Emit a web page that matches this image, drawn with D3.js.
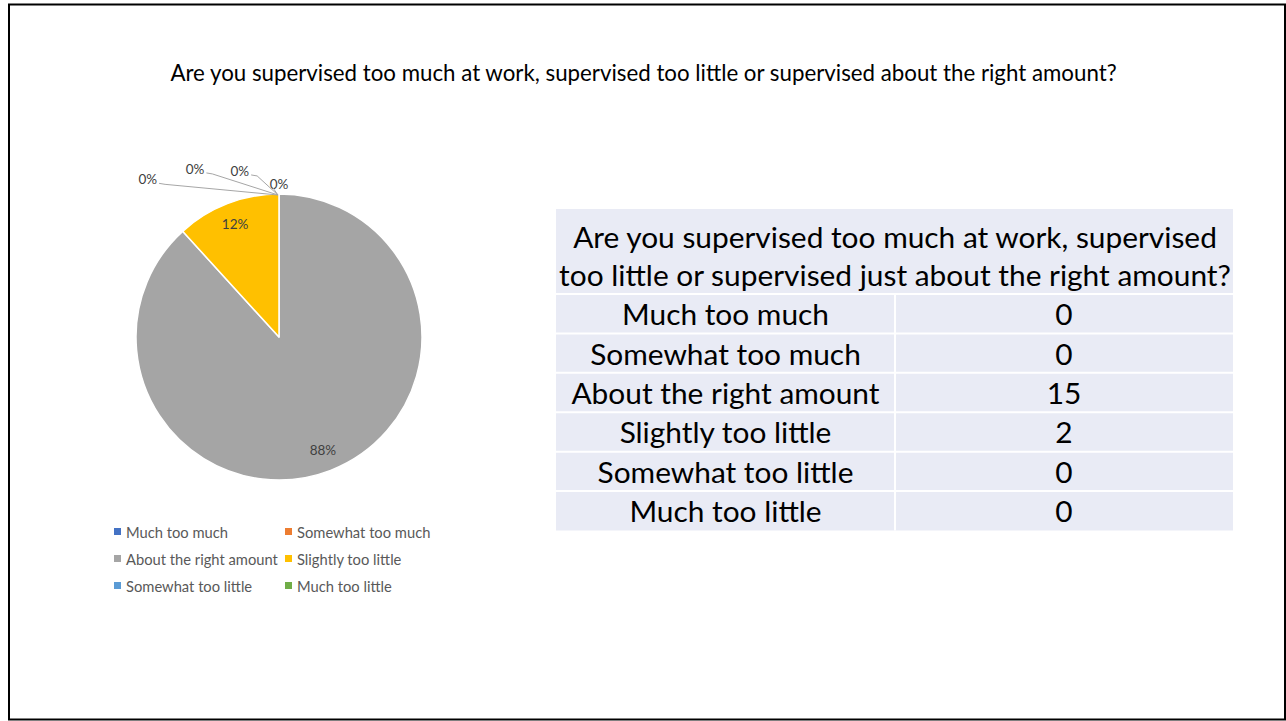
<!DOCTYPE html>
<html>
<head>
<meta charset="utf-8">
<script src="https://cdn.jsdelivr.net/npm/d3@7"></script>
<style>
  html, body { margin: 0; padding: 0; background: #fff; }
  svg { display: block; font-family: Lato, "Open Sans", sans-serif; }
</style>
</head>
<body>
<svg id="chart" width="1286" height="721"></svg>
<script>
// Survey answers and counts
const title = "Are you supervised too much at work, supervised too little or supervised about the right amount?";
const categories = ["Much too much", "Somewhat too much", "About the right amount", "Slightly too little", "Somewhat too little", "Much too little"];
const counts = [0, 0, 15, 2, 0, 0];
const colors = ["#4472C4", "#ED7D31", "#A5A5A5", "#FFC000", "#5B9BD5", "#70AD47"];
const tableHeader = ["Are you supervised too much at work, supervised", "too little or supervised just about the right amount?"];

const data = categories.map((c, i) => ({ name: c, count: counts[i], color: colors[i] }));
const total = d3.sum(counts);

const svg = d3.select("#chart");

// Scale a text's font size so it spans the given width
function fitWidth(sel, width) {
  const w = sel.node().getComputedTextLength();
  const fs = parseFloat(sel.attr("font-size"));
  return fs * width / w;
}

// Slide frame
svg.append("rect")
  .attr("x", 9).attr("y", 4.5).attr("width", 1276).attr("height", 715)
  .attr("fill", "none").attr("stroke", "#000").attr("stroke-width", 2);

// Title
const t = svg.append("text")
  .attr("x", 643.5).attr("y", 80.5)
  .attr("text-anchor", "middle").attr("font-size", 20).attr("fill", "#000")
  .text(title);
t.attr("font-size", fitWidth(t, 947));

// ---------- Pie ----------
const cx = 279, cy = 337, R = 143;
const pie = d3.pie().sort(null).value(d => d.count).startAngle(0).endAngle(2 * Math.PI);
const arcs = pie(data);
const arc = d3.arc().innerRadius(0).outerRadius(R);
const labelArc = d3.arc().innerRadius(R * 0.85).outerRadius(R * 0.85);

const g = svg.append("g").attr("transform", `translate(${cx},${cy})`);
g.selectAll("path.slice")
  .data(arcs.filter(a => a.data.count > 0))
  .join("path")
  .attr("class", "slice")
  .attr("d", arc)
  .attr("fill", d => d.data.color)
  .attr("stroke", "#fff").attr("stroke-width", 1.5)
  .attr("stroke-linejoin", "round");

const pct = v => Math.round(v / total * 100) + "%";

// Probe text for label size
const probe = g.append("text").attr("font-size", 14).text("88%");
const labelSize = fitWidth(probe, 26.5);
probe.remove();

// In-slice labels
g.selectAll("text.inner")
  .data(arcs.filter(a => a.data.count > 0))
  .join("text")
  .attr("class", "inner")
  .attr("transform", d => `translate(${labelArc.centroid(d)})`)
  .attr("text-anchor", "middle").attr("dominant-baseline", "central")
  .attr("font-size", labelSize).attr("fill", "#404040")
  .text(d => pct(d.data.count));

// Empty slices: labels pushed outward and staggered to the left above the pie top
const zero = arcs.filter(a => a.data.count === 0);
const stepAngle = 13.2 * Math.PI / 180;
zero.forEach((a, i) => {
  const ang = -i * stepAngle;
  const rr = R * (1.08 + 0.12 * i);
  const lx = rr * Math.sin(ang);
  const ly = -rr * Math.cos(ang) + 1;
  const txt = g.append("text")
    .attr("x", lx).attr("y", ly)
    .attr("text-anchor", "middle").attr("dominant-baseline", "central")
    .attr("font-size", labelSize).attr("fill", "#404040")
    .text(pct(a.data.count));
  const hw = txt.node().getComputedTextLength() / 2;
  let pts;
  if (i === 0) {
    pts = [[lx - hw + 3, ly + 4], [-1, -R + 1]];
  } else {
    pts = [[lx + hw + 2, ly + 4], [lx + hw + 8, ly + 5], [-1, -R + 1]];
  }
  g.append("path")
    .attr("d", d3.line()(pts))
    .attr("fill", "none").attr("stroke", "#A6A6A6").attr("stroke-width", 1);
});

// ---------- Legend ----------
const legendCols = [114, 285];
const legendRows = d3.scalePoint().domain([0, 1, 2]).range([531.5, 585.5]);
const lg = svg.append("g");
const probe2 = lg.append("text").attr("font-size", 13).text("About the right amount");
const legendSize = fitWidth(probe2, 152);
probe2.remove();
data.forEach((d, i) => {
  const x = legendCols[i % 2];
  const y = legendRows(Math.floor(i / 2));
  lg.append("rect").attr("x", x).attr("y", y - 3.5).attr("width", 7).attr("height", 7).attr("fill", d.color);
  lg.append("text").attr("x", x + 12).attr("y", y)
    .attr("dominant-baseline", "central")
    .attr("font-size", legendSize).attr("fill", "#595959")
    .text(d.name);
});

// ---------- Table ----------
const colX = [556, 895, 1233];
const headTop = 209, headBottom = 294, tableBottom = 530.5;
const rowY = d3.scaleBand().domain(categories).range([headBottom, tableBottom]);
const cellFill = "#E9EBF5";
const tg = svg.append("g");

tg.append("rect").attr("x", colX[0]).attr("y", headTop)
  .attr("width", colX[2] - colX[0]).attr("height", headBottom - headTop).attr("fill", cellFill);
tg.selectAll("rect.cell")
  .data(data.flatMap(d => [{ d, c: 0 }, { d, c: 1 }]))
  .join("rect")
  .attr("class", "cell")
  .attr("x", e => colX[e.c]).attr("y", e => rowY(e.d.name))
  .attr("width", e => colX[e.c + 1] - colX[e.c]).attr("height", rowY.bandwidth())
  .attr("fill", cellFill);

// White rules between cells
[headBottom, ...categories.slice(1).map(c => rowY(c))].forEach(y => {
  tg.append("line").attr("x1", colX[0]).attr("x2", colX[2]).attr("y1", y).attr("y2", y)
    .attr("stroke", "#fff").attr("stroke-width", 2);
});
tg.append("line").attr("x1", colX[1]).attr("x2", colX[1]).attr("y1", headBottom).attr("y2", tableBottom)
  .attr("stroke", "#fff").attr("stroke-width", 2);

// Table text size from the widest header line
const probe3 = tg.append("text").attr("font-size", 28).text(tableHeader[1]);
const tableSize = fitWidth(probe3, 672);
probe3.remove();

const headBase = [248, 285.5];
tableHeader.forEach((line, i) => {
  tg.append("text").attr("x", (colX[0] + colX[2]) / 2 + 0.5).attr("y", headBase[i])
    .attr("text-anchor", "middle").attr("font-size", tableSize).attr("fill", "#000")
    .text(line);
});

data.forEach(d => {
  const base = rowY(d.name) + rowY.bandwidth() * 0.79;
  tg.append("text").attr("x", (colX[0] + colX[1]) / 2).attr("y", base)
    .attr("text-anchor", "middle").attr("font-size", tableSize).attr("fill", "#000")
    .text(d.name);
  tg.append("text").attr("x", (colX[1] + colX[2]) / 2).attr("y", base)
    .attr("text-anchor", "middle").attr("font-size", tableSize).attr("fill", "#000")
    .text(d.count);
});
</script>
</body>
</html>
